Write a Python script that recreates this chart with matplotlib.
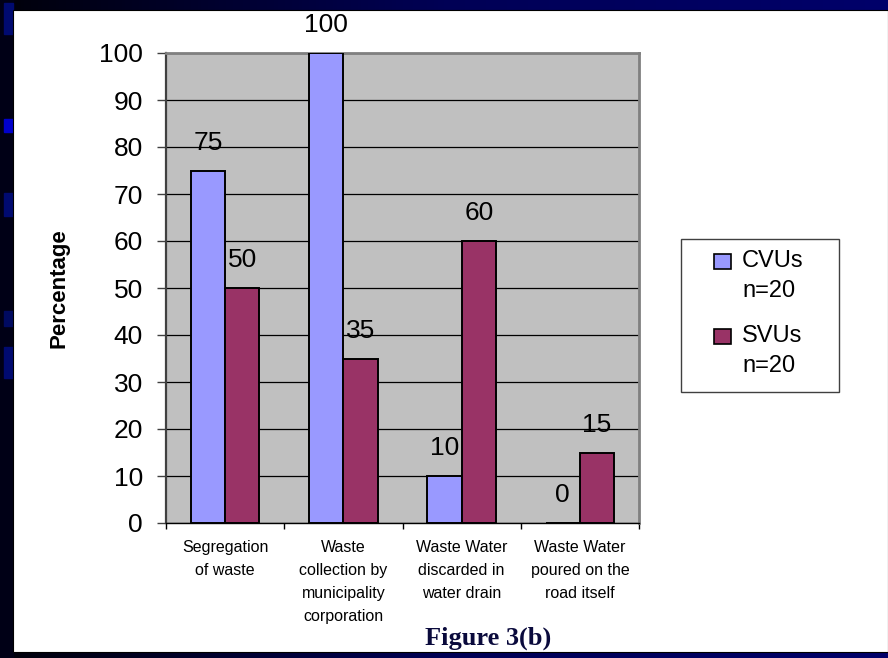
import numpy as np
import matplotlib.pyplot as plt
from matplotlib.patches import Rectangle
from matplotlib.colors import LinearSegmentedColormap

# data
categories = ["Segregation\nof waste",
              "Waste\ncollection by\nmunicipality\ncorporation",
              "Waste Water\ndiscarded in\nwater drain",
              "Waste Water\npoured on the\nroad itself"]
cvu_values = [75, 100, 10, 0]
svu_values = [50, 35, 60, 15]
series_names = ["CVUs", "SVUs"]
series_n = ["n=20", "n=20"]
series_colors = ["#9999FF", "#993366"]
y_ticks = list(range(0, 101, 10))

W, H = 888, 658


def fx(px):
    return px / W


def fy(py):
    return 1 - py / H


plt.rcParams['font.family'] = ['Liberation Sans', 'DejaVu Sans']

fig = plt.figure(figsize=(8.88, 6.58), dpi=100)

# dark slide frame with a horizontal gradient
bg = fig.add_axes([0, 0, 1, 1], zorder=-10)
grad = np.linspace(0, 1, 256).reshape(1, -1)
cmap = LinearSegmentedColormap.from_list("frame", ["#00000a", "#000055", "#00006a"])
bg.imshow(grad, aspect="auto", cmap=cmap, extent=[0, 1, 0, 1])
# left strip
bg.add_patch(Rectangle((0, 0), fx(13), 1, color="#000016"))
for top, bot, col in [(3, 34, "#000a70"), (119, 132, "#0000cc"), (193, 216, "#000a70"),
                      (311, 326, "#000a60"), (347, 378, "#000a70")]:
    bg.add_patch(Rectangle((fx(4), fy(bot)), fx(9), fy(top) - fy(bot), color=col))
# white slide content area
bg.add_patch(Rectangle((fx(13), fy(652)), 1 - fx(13), fy(10) - fy(652),
                       facecolor="white", edgecolor="black", lw=0.8))
bg.set_xlim(0, 1)
bg.set_ylim(0, 1)
bg.axis("off")

# chart
ax = fig.add_axes([fx(166), fy(523), fx(639) - fx(166), fy(53) - fy(523)])
ax.set_facecolor("#C0C0C0")
x = np.arange(len(categories))
w = 0.29
bars_c = ax.bar(x - w / 2, cvu_values, w, color=series_colors[0], edgecolor="black", lw=1.4, zorder=3)
bars_s = ax.bar(x + w / 2, svu_values, w, color=series_colors[1], edgecolor="black", lw=1.4, zorder=3)

for bars, vals in [(bars_c, cvu_values), (bars_s, svu_values)]:
    for b, v in zip(bars, vals):
        ax.annotate(str(v), (b.get_x() + b.get_width() / 2, v), xytext=(0, 11.5),
                    textcoords="offset points", ha="center", va="bottom",
                    fontsize=19, annotation_clip=False)

ax.set_xlim(-0.5, len(categories) - 0.5)
ax.set_ylim(0, 100)
ax.set_yticks(y_ticks)
ax.tick_params(axis="y", direction="out", length=6.5, width=1, pad=10, labelsize=19, color="#404040")
ax.yaxis.grid(True, color="black", lw=0.9)
ax.set_axisbelow(True)

ax.set_xticks(np.arange(len(categories) + 1) - 0.5)
ax.set_xticklabels([])
ax.set_xticks(x, minor=True)
ax.set_xticklabels(categories, minor=True, fontsize=11.5, linespacing=1.68, va="top")
ax.tick_params(axis="x", which="major", direction="out", length=4, width=1, color="black")
ax.tick_params(axis="x", which="minor", length=0, pad=12)

ax.spines["left"].set_color("#404040")
ax.spines["left"].set_linewidth(1.6)
ax.spines["top"].set_color("#808080")
ax.spines["top"].set_linewidth(2)
ax.spines["right"].set_color("#808080")
ax.spines["right"].set_linewidth(2)
ax.spines["bottom"].set_color("black")
ax.spines["bottom"].set_linewidth(1)

ax.set_ylabel("Percentage", fontsize=16, fontweight="bold")
ax.yaxis.set_label_coords(-0.203, 0.5)

# legend drawn by hand so the swatch sits beside the first line
fig.add_artist(Rectangle((fx(681), fy(392)), fx(839) - fx(681), fy(239) - fy(392),
                         transform=fig.transFigure, facecolor="white", edgecolor="#404040", lw=1))
for i, (name, n, col) in enumerate(zip(series_names, series_n, series_colors)):
    yc = 261 + i * 75
    fig.add_artist(Rectangle((fx(714), fy(yc + 8)), fx(17), fy(0) - fy(15),
                             transform=fig.transFigure, facecolor=col, edgecolor="black", lw=1.2))
    fig.text(fx(742), fy(yc), name, fontsize=17, va="center", ha="left")
    fig.text(fx(742), fy(yc + 30), n, fontsize=17, va="center", ha="left")

fig.text(fx(488), fy(638), "Figure 3(b)", fontsize=19, fontweight="bold",
         family=["Liberation Serif", "DejaVu Serif"], color="#0a0a3c", ha="center", va="center")

fig.savefig("out.png", dpi=100)
